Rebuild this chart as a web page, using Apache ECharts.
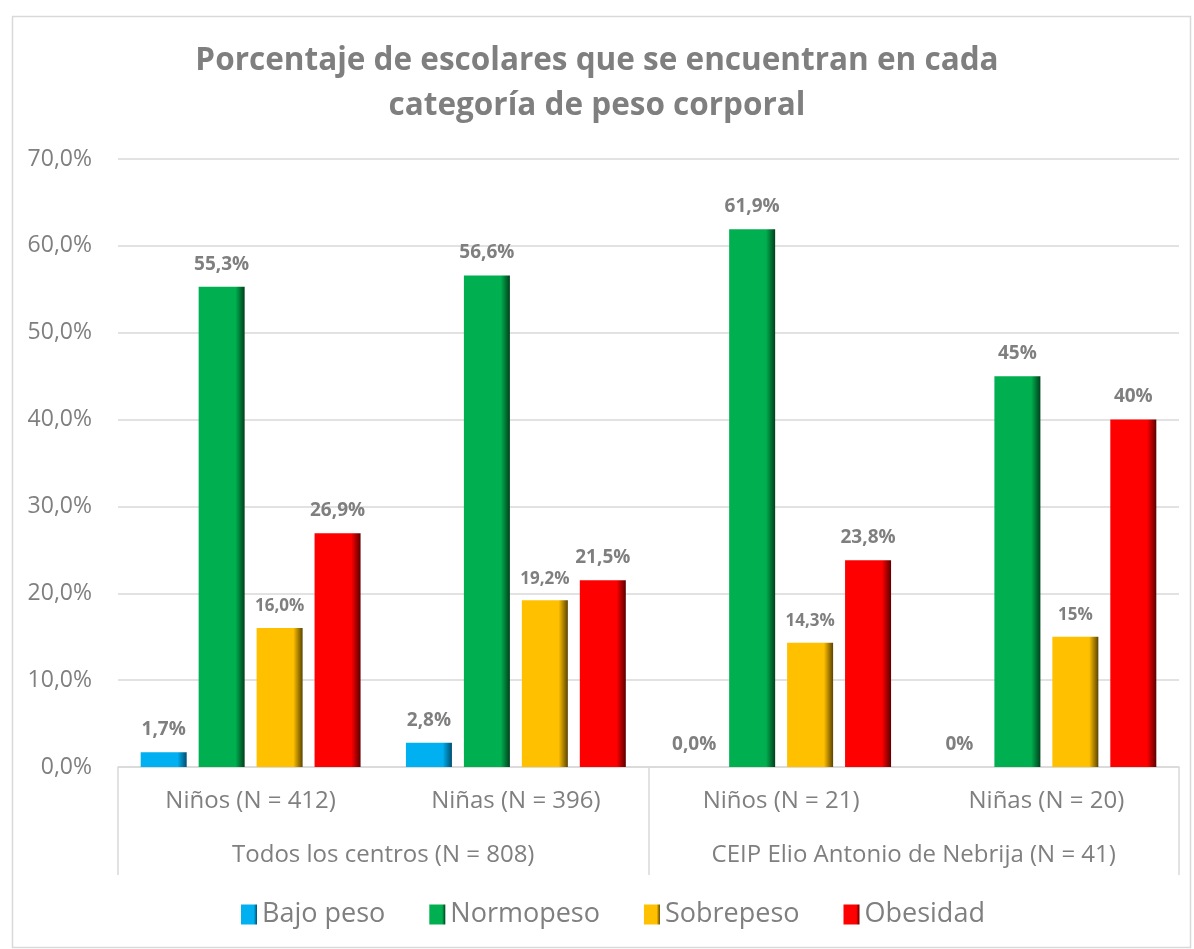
<!DOCTYPE html>
<html>
<head>
<meta charset="utf-8">
<script src="https://cdn.jsdelivr.net/npm/echarts@6/dist/echarts.min.js"></script>
<style>
  html, body { margin: 0; padding: 0; background: #fff; }
  #chart { width: 1194px; height: 949px; }
</style>
</head>
<body>
<div id="chart"></div>
<script>
const subCategories = ["Niños (N = 412)", "Niñas (N = 396)", "Niños (N = 21)", "Niñas (N = 20)"];
const groupCategories = ["Todos los centros (N = 808)", "CEIP Elio Antonio de Nebrija (N = 41)"];
const labelDecimals = [1, 1, 1, 0];

const bajoPeso = [1.7, 2.8, 0, 0];
const normopeso = [55.3, 56.6, 61.9, 45];
const sobrepeso = [16.0, 19.2, 14.3, 15];
const obesidad = [26.9, 21.5, 23.8, 40];

const gray = "#7f7f7f";
const lineGray = "#d9d9d9";
const font = "Open Sans";

const chart = echarts.init(document.getElementById("chart"));

// Excel-like bevel: flat face, dark right edge
function bevel(base, dark) {
  return {
    type: "linear", x: 0, y: 0, x2: 1, y2: 0,
    colorStops: [
      { offset: 0, color: base },
      { offset: 0.8, color: base },
      { offset: 1, color: dark },
    ],
  };
}

function barSeries(name, data, base, dark, labelSize) {
  return {
    name,
    type: "bar",
    data,
    barWidth: 46,
    barGap: "26%",
    itemStyle: { color: bevel(base, dark) },
    label: {
      show: true,
      position: "top",
      distance: 13,
      color: gray,
      fontFamily: font,
      fontWeight: "bold",
      fontSize: labelSize,
      formatter: (p) => p.value.toFixed(labelDecimals[p.dataIndex]).replace(".", ",") + "%",
    },
  };
}

chart.setOption({
  animation: false,
  textStyle: { fontFamily: font },
  title: {
    text: "Porcentaje de escolares que se encuentran en cada\ncategoría de peso corporal",
    left: "center",
    top: 34,
    textStyle: { color: gray, fontSize: 31.5, fontWeight: "bold", lineHeight: 45, fontFamily: font },
  },
  legend: {
    bottom: 16,
    left: 236,
    itemWidth: 16,
    itemHeight: 20,
    itemGap: 44,
    icon: "rect",
    textStyle: { color: gray, fontSize: 27, fontFamily: font },
    data: ["Bajo peso", "Normopeso", "Sobrepeso", "Obesidad"],
  },
  grid: { left: 118, right: 15, top: 159, bottom: 182 },
  xAxis: [
    {
      type: "category",
      data: subCategories,
      axisLine: { show: true, lineStyle: { color: lineGray, width: 1.5 } },
      axisTick: { show: false },
      axisLabel: { color: gray, fontSize: 24, margin: 22, fontFamily: font },
    },
    {
      type: "category",
      data: groupCategories,
      position: "bottom",
      axisLine: { show: false },
      axisTick: { show: true, length: 108, lineStyle: { color: lineGray, width: 1.5 } },
      axisLabel: { color: gray, fontSize: 24, margin: 76, fontFamily: font },
    },
  ],
  yAxis: {
    type: "value",
    min: 0,
    max: 70,
    interval: 10,
    axisLine: { show: false },
    axisTick: { show: false },
    splitLine: { lineStyle: { color: lineGray, width: 1.5 } },
    axisLabel: {
      color: gray,
      fontSize: 23,
      margin: 26,
      fontFamily: font,
      formatter: (v) => v.toFixed(1).replace(".", ",") + "%",
    },
  },
  graphic: [
    {
      type: "rect",
      left: 10,
      top: 14,
      shape: { width: 1178, height: 931 },
      style: { fill: null, stroke: lineGray, lineWidth: 1.5 },
      silent: true,
    },
  ],
  series: [
    barSeries("Bajo peso", bajoPeso, "#00b0f0", "#004f70", 19),
    barSeries("Normopeso", normopeso, "#00b050", "#00401c", 19),
    barSeries("Sobrepeso", sobrepeso, "#ffc000", "#5c4400", 17),
    barSeries("Obesidad", obesidad, "#ff0000", "#5c0000", 19),
  ],
});

window.addEventListener("resize", () => chart.resize());
</script>
</body>
</html>
